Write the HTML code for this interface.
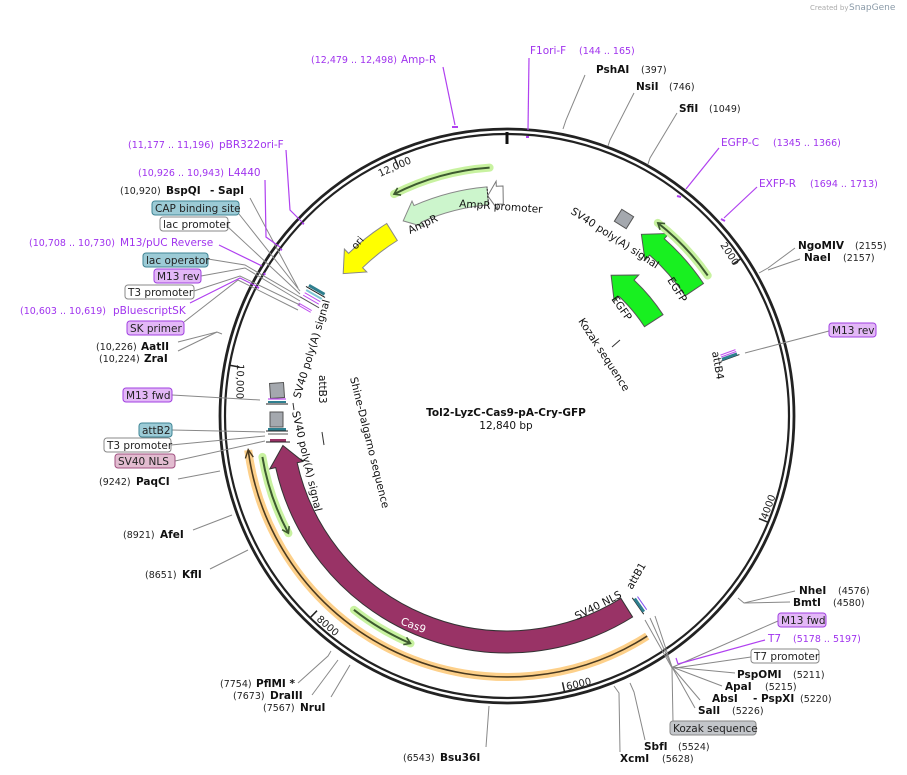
<!DOCTYPE html>
<html><head><meta charset="utf-8">
<style>
html,body{margin:0;padding:0;background:#fff;}
svg{display:block;font-family:"DejaVu Sans","Liberation Sans",sans-serif;}
.l{font-size:10.5px;fill:#111;}
.b{font-size:10.5px;font-weight:bold;fill:#111;}
.n{font-size:9.5px;fill:#222;}
.p{font-size:10.5px;fill:#a033ee;}
.pn{font-size:9.5px;fill:#a033ee;}
.bx{font-size:10.5px;fill:#222;}
</style></head>
<body>
<svg id="s" width="907" height="775" viewBox="0 0 907 775" xmlns="http://www.w3.org/2000/svg">
<text x="810" y="10" style="font-size:7px;fill:#aaa">Created by</text>
<text x="849" y="10" style="font-size:9px;fill:#8a9aa8">SnapGene</text>
<g id="feat"></g>
<circle cx="507" cy="416" r="287" fill="none" stroke="#222" stroke-width="2.8"/>
<circle cx="507" cy="416" r="282" fill="none" stroke="#222" stroke-width="2.2"/>
<line x1="507" y1="132" x2="507" y2="144" stroke="#111" stroke-width="3"/>
<g id="ticks" stroke="#222" stroke-width="1.5"></g>
<g class="n" style="font-size:10px">
<text transform="translate(380,177) rotate(-24)">12,000</text>
<text transform="translate(720,245) rotate(57)">2000</text>
<text transform="translate(767,520) rotate(-70)">4000</text>
<text transform="translate(567,690) rotate(-13)">6000</text>
<text transform="translate(316,620) rotate(41)">8000</text>
<text transform="translate(237,364) rotate(91)">10,000</text>
</g>

<text x="506" y="416" text-anchor="middle" class="b">Tol2-LyzC-Cas9-pA-Cry-GFP</text>
<text x="506" y="429" text-anchor="middle" class="l">12,840 bp</text>

<g class="l">
<text transform="translate(459,207) rotate(4)">AmpR promoter</text>
<text transform="translate(410,234) rotate(-25)">AmpR</text>
<text transform="translate(356,250) rotate(-50)" style="font-size:10px">ori</text>
<text transform="translate(570,213) rotate(33)">SV40 poly(A) signal</text>
<text transform="translate(667,280) rotate(58)">EGFP</text>
<text transform="translate(611,299) rotate(55)">EGFP</text>
<text transform="translate(578,321) rotate(57)">Kozak sequence</text>
<text transform="translate(350,378) rotate(76)">Shine-Dalgarno sequence</text>
<text transform="translate(300,399) rotate(-73)">SV40 poly(A) signal</text>
<text transform="translate(292,412) rotate(77)">SV40 poly(A) signal</text>
<text transform="translate(319,375) rotate(90)">attB3</text>
<text transform="translate(577,620) rotate(-27)">SV40 NLS</text>
<text transform="translate(632,590) rotate(-60)">attB1</text>
<text transform="translate(712,352) rotate(80)">attB4</text>
<text transform="translate(400,624) rotate(21)" style="fill:#fff">Cas9</text>
</g>

<g>
<rect x="270" y="383" width="14" height="15" fill="#a4a8ae" stroke="#555" transform="rotate(-4 277 390)"/>
<rect x="268" y="401" width="18" height="2" fill="#2f7f8f"/>
<line x1="266" y1="404" x2="288" y2="404" stroke="#222"/>
<line x1="268" y1="399" x2="286" y2="399" stroke="#c050f0" stroke-width="1.2"/>
<rect x="270" y="412" width="13" height="15" fill="#a4a8ae" stroke="#555"/>
<rect x="268" y="428" width="18" height="3" fill="#2f7f8f"/>
<line x1="266" y1="431" x2="288" y2="431" stroke="#222"/>
<line x1="268" y1="434" x2="288" y2="434" stroke="#555"/>
<rect x="270" y="439" width="16" height="3" fill="#993366"/>
<line x1="266" y1="442" x2="290" y2="442" stroke="#222"/>
<line x1="322" y1="432" x2="324" y2="445" stroke="#333"/>
<line x1="293" y1="403" x2="294" y2="410" stroke="#333"/>
<line x1="612" y1="347" x2="620" y2="340" stroke="#333"/>
<rect x="617" y="212" width="14" height="14" fill="#a4a8ae" stroke="#555" transform="rotate(32 624 219)"/>
<g transform="rotate(30 312 298)">
<rect x="303" y="287" width="18" height="3" fill="#2f7f8f"/>
<line x1="301" y1="291" x2="323" y2="291" stroke="#222"/>
<rect x="303" y="293" width="18" height="2" fill="#7fc7d3"/>
<line x1="303" y1="297" x2="321" y2="297" stroke="#c050f0"/>
<line x1="303" y1="300" x2="321" y2="300" stroke="#c050f0"/>
<line x1="301" y1="303" x2="323" y2="303" stroke="#555"/>
<line x1="303" y1="309" x2="318" y2="309" stroke="#c050f0"/>
<line x1="303" y1="311" x2="318" y2="311" stroke="#c050f0"/>
</g>
<g transform="rotate(-20 730 358)">
<line x1="720" y1="358" x2="740" y2="358" stroke="#222"/>
<rect x="722" y="355" width="16" height="3" fill="#2f7f8f"/>
<line x1="722" y1="352" x2="738" y2="352" stroke="#c050f0"/>
<line x1="722" y1="354" x2="738" y2="354" stroke="#c050f0"/>
</g>
<g transform="rotate(55 638 606)">
<line x1="628" y1="606" x2="648" y2="606" stroke="#222"/>
<rect x="630" y="603" width="16" height="3" fill="#2f7f8f"/>
<line x1="630" y1="601" x2="646" y2="601" stroke="#8050f0"/>
</g>
</g>

<g stroke="#888" stroke-width="1" fill="none">
<polyline points="585,75 566,120 563,129"/>
<polyline points="634,93 610,140 608,146"/>
<polyline points="677,113 650,158 648,164"/>
<polyline points="795,248 768,268 759,273"/>
<polyline points="800,259 768,270"/>
<polyline points="829,331 745,353"/>
<polyline points="795,591 744,603 738,598"/>
<polyline points="790,602 744,603"/>
<polyline points="778,621 673,667"/>
<polyline points="751,657 675,668"/>
<polyline points="735,673 672,667"/>
<polyline points="722,686 672,667"/>
<polyline points="700,700 672,667"/>
<polyline points="695,708 672,667"/>
<polyline points="673,722 672,668 645,620"/>
<polyline points="672,667 650,618"/>
<polyline points="672,667 655,616"/>
<polyline points="645,740 634,692 630,683"/>
<polyline points="620,752 619,693 614,686"/>
<polyline points="486,747 489,706"/>
<polyline points="298,683 328,656 331,651"/>
<polyline points="312,695 338,660"/>
<polyline points="331,697 350,665"/>
<polyline points="210,569 248,550"/>
<polyline points="193,530 232,515"/>
<polyline points="178,479 220,471"/>
<polyline points="175,461 265,441"/>
<polyline points="171,445 265,436"/>
<polyline points="172,430 265,432"/>
<polyline points="172,395 260,400"/>
<polyline points="178,342 217,332 222,334"/>
<polyline points="178,351 217,332"/>
<polyline points="184,322 238,280 298,310"/>
<polyline points="194,291 240,276 300,305"/>
<polyline points="201,276 245,268 300,301"/>
<polyline points="208,259 245,265 300,297"/>
<polyline points="228,227 300,294"/>
<polyline points="239,214 300,291"/>
<polyline points="250,198 298,288"/>
</g>
<g stroke="#b040f0" stroke-width="1.2" fill="none">
<polyline points="443,67 455,125"/><line x1="452" y1="127" x2="458" y2="127" stroke-width="2"/>
<polyline points="529,58 528,130"/><line x1="526" y1="137" x2="529" y2="137" stroke-width="2"/>
<polyline points="719,148 686,189"/><line x1="677" y1="196" x2="681" y2="197" stroke-width="2"/>
<polyline points="757,187 724,218"/><line x1="721" y1="219" x2="725" y2="221" stroke-width="2"/>
<polyline points="765,640 678,664"/><line x1="676" y1="658" x2="678" y2="664"/>
<polyline points="286,150 290,210 302,222"/><line x1="302" y1="223" x2="304" y2="224" stroke-width="2"/>
<polyline points="265,180 266,237 280,247"/><line x1="280" y1="249" x2="282" y2="250" stroke-width="2"/>
<polyline points="219,245 262,266"/><line x1="264" y1="273" x2="265" y2="275" stroke-width="2"/>
<polyline points="190,303 240,278 258,287"/><line x1="257" y1="287" x2="259" y2="288" stroke-width="2"/>
</g>

<g stroke-width="1">
<rect x="829" y="323" width="47" height="14" rx="3" fill="#e3b8f7" stroke="#a040e0"/>
<rect x="778" y="613" width="48" height="14" rx="3" fill="#e3b8f7" stroke="#a040e0"/>
<rect x="751" y="649" width="68" height="14" rx="3" fill="#fff" stroke="#888"/>
<rect x="670" y="721" width="86" height="14" rx="3" fill="#c3c6ca" stroke="#888"/>
<rect x="115" y="454" width="60" height="14" rx="3" fill="#e2bcd0" stroke="#a05080"/>
<rect x="104" y="438" width="67" height="14" rx="3" fill="#fff" stroke="#888"/>
<rect x="139" y="423" width="33" height="14" rx="3" fill="#9ccbd6" stroke="#3f8595"/>
<rect x="123" y="388" width="49" height="14" rx="3" fill="#e3b8f7" stroke="#a040e0"/>
<rect x="127" y="321" width="57" height="14" rx="3" fill="#e3b8f7" stroke="#a040e0"/>
<rect x="125" y="285" width="69" height="14" rx="3" fill="#fff" stroke="#888"/>
<rect x="154" y="269" width="47" height="14" rx="3" fill="#e3b8f7" stroke="#a040e0"/>
<rect x="143" y="253" width="65" height="14" rx="3" fill="#9ccbd6" stroke="#3f8595"/>
<rect x="160" y="217" width="68" height="14" rx="3" fill="#fff" stroke="#888"/>
<rect x="152" y="201" width="87" height="14" rx="3" fill="#9ccbd6" stroke="#3f8595"/>
</g>
<g class="bx">
<text x="832" y="334">M13 rev</text>
<text x="781" y="624">M13 fwd</text>
<text x="754" y="660">T7 promoter</text>
<text x="673" y="732">Kozak sequence</text>
<text x="118" y="465">SV40 NLS</text>
<text x="107" y="449">T3 promoter</text>
<text x="142" y="434">attB2</text>
<text x="126" y="399">M13 fwd</text>
<text x="130" y="332">SK primer</text>
<text x="128" y="296">T3 promoter</text>
<text x="157" y="280">M13 rev</text>
<text x="146" y="264">lac operator</text>
<text x="163" y="228">lac promoter</text>
<text x="155" y="212">CAP binding site</text>
</g>

<text x="311" y="63" class="pn">(12,479 .. 12,498)</text><text x="401" y="63" class="p">Amp-R</text>
<text x="530" y="54" class="p">F1ori-F</text><text x="579" y="54" class="pn">(144 .. 165)</text>
<text x="596" y="73" class="b">PshAI</text><text x="641" y="73" class="n">(397)</text>
<text x="636" y="90" class="b">NsiI</text><text x="669" y="90" class="n">(746)</text>
<text x="679" y="112" class="b">SfiI</text><text x="709" y="112" class="n">(1049)</text>
<text x="721" y="146" class="p">EGFP-C</text><text x="773" y="146" class="pn">(1345 .. 1366)</text>
<text x="759" y="187" class="p">EXFP-R</text><text x="810" y="187" class="pn">(1694 .. 1713)</text>
<text x="798" y="249" class="b">NgoMIV</text><text x="855" y="249" class="n">(2155)</text>
<text x="804" y="261" class="b">NaeI</text><text x="843" y="261" class="n">(2157)</text>
<text x="799" y="594" class="b">NheI</text><text x="838" y="594" class="n">(4576)</text>
<text x="793" y="606" class="b">BmtI</text><text x="833" y="606" class="n">(4580)</text>
<text x="768" y="642" class="p">T7</text><text x="793" y="642" class="pn">(5178 .. 5197)</text>
<text x="737" y="678" class="b">PspOMI</text><text x="793" y="678" class="n">(5211)</text>
<text x="725" y="690" class="b">ApaI</text><text x="765" y="690" class="n">(5215)</text>
<text x="712" y="702" class="b">AbsI</text><text x="753" y="702" class="b">- PspXI</text><text x="800" y="702" class="n">(5220)</text>
<text x="698" y="714" class="b">SalI</text><text x="732" y="714" class="n">(5226)</text>
<text x="644" y="750" class="b">SbfI</text><text x="678" y="750" class="n">(5524)</text>
<text x="620" y="762" class="b">XcmI</text><text x="662" y="762" class="n">(5628)</text>
<text x="403" y="761" class="n">(6543)</text><text x="440" y="761" class="b">Bsu36I</text>
<text x="220" y="687" class="n">(7754)</text><text x="256" y="687" class="b">PflMI *</text>
<text x="233" y="699" class="n">(7673)</text><text x="270" y="699" class="b">DraIII</text>
<text x="263" y="711" class="n">(7567)</text><text x="300" y="711" class="b">NruI</text>
<text x="145" y="578" class="n">(8651)</text><text x="182" y="578" class="b">KflI</text>
<text x="123" y="538" class="n">(8921)</text><text x="160" y="538" class="b">AfeI</text>
<text x="99" y="485" class="n">(9242)</text><text x="136" y="485" class="b">PaqCI</text>
<text x="96" y="350" class="n">(10,226)</text><text x="141" y="350" class="b">AatII</text>
<text x="99" y="362" class="n">(10,224)</text><text x="144" y="362" class="b">ZraI</text>
<text x="20" y="314" class="pn">(10,603 .. 10,619)</text><text x="113" y="314" class="p">pBluescriptSK</text>
<text x="29" y="246" class="pn">(10,708 .. 10,730)</text><text x="120" y="246" class="p">M13/pUC Reverse</text>
<text x="120" y="194" class="n">(10,920)</text><text x="166" y="194" class="b">BspQI</text><text x="210" y="194" class="b">- SapI</text>
<text x="138" y="176" class="pn">(10,926 .. 10,943)</text><text x="228" y="176" class="p">L4440</text>
<text x="128" y="148" class="pn">(11,177 .. 11,196)</text><text x="219" y="148" class="p">pBR322ori-F</text>
</svg>
<script>
(function(){
var cx=507,cy=416,NS="http://www.w3.org/2000/svg";
function P(r,a){a=a*Math.PI/180;return [(cx+r*Math.sin(a)).toFixed(1),(cy-r*Math.cos(a)).toFixed(1)];}
function arc(r,a1,a2){var e=P(r,a2);var sw=a2>a1?1:0;var la=Math.abs(a2-a1)>180?1:0;return "A"+r+","+r+" 0 "+la+","+sw+" "+e[0]+","+e[1];}
function add(parent,tag,attrs){var el=document.createElementNS(NS,tag);for(var k in attrs)el.setAttribute(k,attrs[k]);parent.appendChild(el);return el;}
var g=document.getElementById("feat");
function arrow(r,w,at,ah,hw,hlpx,fill,stroke){
 var dir=ah>at?1:-1;var hl=hlpx/r*180/Math.PI;var ab=ah-dir*hl;
 var ro=r+w/2,ri=r-w/2;var s=P(ro,at);
 var d="M"+s[0]+","+s[1]+arc(ro,at,ab);
 var q=P(r+hw/2,ab),t=P(r,ah),u=P(r-hw/2,ab),v=P(ri,ab);
 d+="L"+q+"L"+t+"L"+u+"L"+v+arc(ri,ab,at)+"Z";
 add(g,"path",{d:d,fill:fill,stroke:stroke,"stroke-width":1});
}
function primer(r,at,ah){
 var dir=ah>at?1:-1;var s=P(r,at);
 add(g,"path",{d:"M"+s+arc(r,at,ah),fill:"none",stroke:"#c8f2a0","stroke-width":8,"stroke-linecap":"round"});
 var hl=6/r*180/Math.PI,ab=ah-dir*hl;
 add(g,"path",{d:"M"+s+arc(r,at,ah),fill:"none",stroke:"#3d5a30","stroke-width":2});
 var a=P(r+4,ab),t=P(r,ah),b=P(r-4,ab);
 add(g,"path",{d:"M"+a+"L"+t+"L"+b,fill:"none",stroke:"#3d5a30","stroke-width":1.6});
}
var s=P(261,147.5);
add(g,"path",{d:"M"+s+arc(261,147.5,262.5),fill:"none",stroke:"#fdd08a","stroke-width":8});
add(g,"path",{d:"M"+s+arc(261,147.5,262.5),fill:"none",stroke:"#4a3a20","stroke-width":1.6});
var a=P(265,260.8),t=P(261,262.6),b=P(257,260.8);
add(g,"path",{d:"M"+a+"L"+t+"L"+b,fill:"none",stroke:"#4a3a20","stroke-width":1.4});
arrow(226,22,148,262.5,34,20,"#993366","#333");
arrow(221,18,355,332,28,16,"#ccf5cc","#888");
arrow(221,18,359,355,28,9,"#fff","#777");
var d1=P(212,355),d2=P(230,355);add(g,"line",{x1:d1[0],y1:d1[1],x2:d2[0],y2:d2[1],stroke:"#222","stroke-dasharray":"2,1.5"});
arrow(217,20,328,311,32,18,"#ffff00","#888");
arrow(226,22,56,36.5,36,20,"#18f020","#555");
arrow(175,22,57,36.5,36,20,"#18f020","#555");
primer(248,260.5,241.8);
primer(247,218.3,203);
primer(249,356,333);
primer(245,55,38);
var tk=document.getElementById("ticks");
[2000,4000,6000,8000,10000,12000].forEach(function(n){var an=n/12840*360;var p1=P(282,an),p2=P(272,an);add(tk,"line",{x1:p1[0],y1:p1[1],x2:p2[0],y2:p2[1]});});
})();
</script>
</body></html>
